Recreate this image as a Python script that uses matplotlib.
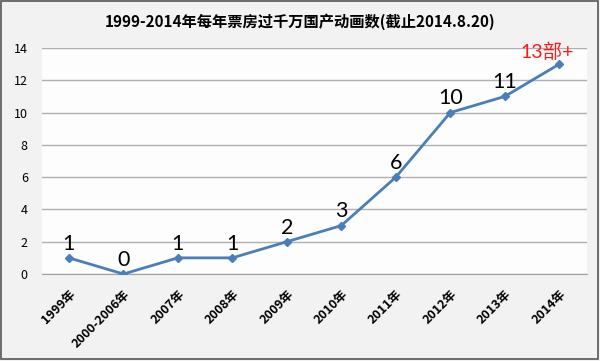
import matplotlib
matplotlib.use("Agg")
import matplotlib.pyplot as plt
from matplotlib.patches import Rectangle

plt.rcParams['font.family'] = ['Noto Sans CJK SC', 'DejaVu Sans']

# 数据
years = ["1999年", "2000-2006年", "2007年", "2008年", "2009年",
         "2010年", "2011年", "2012年", "2013年", "2014年"]
counts = [1, 0, 1, 1, 2, 3, 6, 10, 11, 13]
point_labels = ["1", "0", "1", "1", "2", "3", "6", "10", "11", "13部+"]
yticks = [0, 2, 4, 6, 8, 10, 12, 14]
title = "1999-2014年每年票房过千万国产动画数(截止2014.8.20)"

fig = plt.figure(figsize=(6, 3.61), dpi=100, facecolor="#f2f2f2")
ax = fig.add_axes([0.0695, 0.241, 0.908, 0.626])
ax.set_facecolor("#fdfdfd")

x = list(range(len(years)))
ax.plot(x, counts, color="#4a7ebb", linewidth=2, marker="D", markersize=4,
        zorder=3)

# 数据标签
for i, (v, lab) in enumerate(zip(counts, point_labels)):
    if i == len(counts) - 1:
        ax.annotate(lab, (i, v), xytext=(-9, 2), textcoords="offset points",
                    ha="center", va="bottom", fontsize=14, color="#ff1a1a",
                    family=['Lato', 'Noto Sans CJK SC'])
    else:
        ax.annotate(lab, (i, v), xytext=(0, 3), textcoords="offset points",
                    ha="center", va="bottom", fontsize=15.5, color="black",
                    family=['Lato', 'Noto Sans CJK SC'])

ax.set_xlim(-0.5, len(years) - 0.5)
ax.set_ylim(0, 14)
ax.set_yticks(yticks)
ax.set_xticks(x)
ax.set_xticklabels(years, rotation=45, ha="right", rotation_mode="anchor",
                   fontsize=9, fontweight="bold")
ax.tick_params(axis="both", length=0)
ax.tick_params(axis="y", pad=10, labelsize=9)
ax.tick_params(axis="x", pad=10)

ax.grid(axis="y", color="#b0b0b0", linewidth=1)
ax.set_axisbelow(True)
for s in ["top", "right", "left"]:
    ax.spines[s].set_visible(False)
ax.spines["bottom"].set_color("#a0a0a0")

fig.text(0.5, 0.94, title, ha="center", va="center", fontsize=11,
         fontweight="bold")

# 外框
fig.patches.append(Rectangle((0.002, 0.006), 0.994, 0.99, transform=fig.transFigure,
                             fill=False, edgecolor="#555555", linewidth=1.2))

fig.savefig("out.png", dpi=100, facecolor=fig.get_facecolor())
